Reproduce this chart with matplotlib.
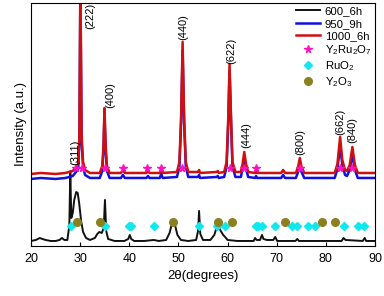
"""XRD patterns of Y2Ru2O7 samples (600_6h, 950_9h, 1000_6h)."""

import matplotlib
matplotlib.use("Agg")
import matplotlib.pyplot as plt

plt.rcParams["font.family"] = ["Liberation Sans", "DejaVu Sans"]
plt.rcParams["mathtext.default"] = "regular"

# 2theta / intensity (arbitrary, stacked)
tt_ybo = [20, 22, 25, 27, 27.8, 28.5, 29.0, 29.3, 29.6, 29.85, 30.05, 30.3, 30.6, 31.0,
          32, 34.0, 34.5, 34.75, 34.95, 35.2, 35.45, 36, 38.3, 38.7, 39.1, 43.5, 43.8,
          44.1, 46.2, 46.5, 46.8, 49.7, 50.2, 50.55, 50.85, 51.15, 51.5, 52.0, 54.0,
          54.2, 54.4, 57.8, 58.0, 58.2, 59.3, 59.8, 60.15, 60.4, 60.7, 61.0, 61.6,
          62.7, 63.05, 63.4, 63.75, 64.2, 65.6, 65.8, 66.0, 70.9, 71.3, 71.7, 73.9,
          74.35, 74.7, 75.05, 75.6, 81.8, 82.35, 82.9, 83.35, 83.9, 84.3, 84.85, 85.4,
          85.9, 86.5, 90]
int_1000 = [72, 73, 72, 73, 74, 75, 78, 80, 82, 110, 270, 110, 84, 76,
            73, 73, 80, 100, 138, 100, 80, 73, 73, 76, 73, 73, 75,
            73, 73, 77, 73, 74, 84, 130, 204, 130, 84, 74, 74,
            76, 73, 74, 75, 73, 74, 84, 130, 182, 130, 84, 74,
            74, 82, 94, 82, 74, 73, 75, 73, 73, 76, 73, 73,
            79, 88, 79, 73, 73, 82, 109, 86, 76, 75, 81, 99,
            81, 73, 73]
int_950 = [67, 68, 67, 68, 69, 70, 73, 75, 77, 104, 260, 104, 79, 71,
           68, 68, 75, 95, 132, 95, 75, 68, 68, 71, 68, 68, 70,
           68, 68, 72, 68, 69, 79, 124, 196, 124, 79, 69, 69,
           71, 68, 69, 70, 68, 69, 79, 124, 175, 124, 79, 69,
           69, 77, 88, 77, 69, 68, 70, 68, 68, 71, 68, 68,
           74, 82, 74, 68, 68, 77, 100, 81, 71, 70, 76, 92,
           76, 68, 68]

tt_600 = [20, 21, 21.8, 22.3, 23, 24, 25, 25.8, 26.3, 26.8, 27.4, 27.8, 28.0, 28.2,
          28.5, 28.8, 29.2, 29.5, 29.8, 30.2, 30.6, 31.2, 32, 33.0, 33.5, 33.9, 34.4,
          34.8, 35.05, 35.3, 35.7, 37, 39, 39.8, 40.1, 40.4, 41, 43, 45, 46, 47.5,
          48.2, 48.6, 48.9, 49.3, 49.8, 50.5, 52, 53.6, 54.0, 54.2, 54.45, 55, 56.5,
          57.3, 57.8, 58.1, 58.5, 59.1, 59.5, 60, 62, 65.3, 65.6, 65.9, 66.6, 67.0,
          67.3, 68, 69.3, 69.7, 70.1, 73.8, 74.2, 74.5, 83.2, 83.6, 84, 87.5, 87.9,
          88.2, 90]
int_600 = [5, 6, 8, 7, 6, 5, 5, 6, 8, 6, 6, 20, 75, 28,
           33, 46, 54, 53, 43, 25, 14, 8, 6, 8, 12, 14, 13,
           18, 46, 15, 7, 5, 5, 7, 11, 7, 5, 5, 6, 5, 6,
           13, 21, 25, 21, 11, 6, 5, 6, 15, 35, 12, 6, 6,
           11, 19, 20, 16, 11, 9, 6, 5, 5, 8, 6, 6, 11,
           7, 6, 6, 9, 5, 5, 7, 5, 5, 8, 6, 5, 8,
           5, 5]

# phase markers
ybo_pos = [29.2, 30.4, 35.0, 38.7, 43.7, 46.4, 50.8, 60.4, 63.4, 65.7, 74.7, 82.9, 85.4]
ybo_y = [78] * len(ybo_pos)
ruo2_pos = [28.1, 35.1, 40.0, 40.4, 45.1, 54.25, 57.9, 59.4, 65.7, 66.2, 67.0, 69.7,
            73.1, 74.2, 76.4, 77.7, 83.6, 86.5, 87.8]
ruo2_y = [20] * len(ruo2_pos)
y2o3_pos = [29.4, 34.0, 48.8, 58.05, 60.9, 71.6, 79.2, 81.8]
y2o3_y = [24] * len(y2o3_pos)

# hkl labels
hkl_labels = ["(311)", "(222)", "(400)", "(440)", "(622)", "(444)", "(800)", "(662)", "(840)"]
hkl_x = [28.95, 32.1, 36.1, 50.9, 60.7, 63.75, 74.7, 82.9, 85.3]
hkl_y = [94, 230, 151, 219, 195, 111, 104, 124, 116]


fig = plt.figure(figsize=(3.84, 2.96), dpi=100)
ax = fig.add_axes([0.0807, 0.169, 0.8959, 0.821])

ax.plot(tt_600, int_600, color="#111111", lw=1.4, label="600_6h")
ax.plot(tt_ybo, int_950, color="#1010e0", lw=1.8, label="950_9h")
ax.plot(tt_ybo, int_1000, color="#d01010", lw=1.8, label="1000_6h")
ax.plot(ybo_pos, ybo_y, ls="none", marker="*", ms=5.5, color="#ff10c0",
        label="Y$_2$Ru$_2$O$_7$")
ax.plot(ruo2_pos, ruo2_y, ls="none", marker="D", ms=4, color="#10e8f0", label="RuO$_2$")
ax.plot(y2o3_pos, y2o3_y, ls="none", marker="o", ms=5.5, color="#8a8020", label="Y$_2$O$_3$")

for lab, x, y in zip(hkl_labels, hkl_x, hkl_y):
    ax.text(x, y, lab, rotation=90, ha="center", va="center", fontsize=8)

ax.set_xlim(20, 90)
ax.set_ylim(0, 243)
ax.set_xticks(range(20, 91, 10))
ax.set_yticks([])
ax.tick_params(axis="x", direction="in", labelsize=9, length=3, pad=5)
ax.set_xlabel("2θ(degrees)", fontsize=9.5, labelpad=4)
ax.set_ylabel("Intensity (a.u.)", fontsize=9.5, labelpad=3)

ax.legend(loc="upper right", bbox_to_anchor=(1.0, 1.0), frameon=False, fontsize=8.2,
          handlelength=2.1, handletextpad=0.4, labelspacing=0.2, borderaxespad=0.0,
          borderpad=0.3)

fig.savefig("out.png", dpi=100)
